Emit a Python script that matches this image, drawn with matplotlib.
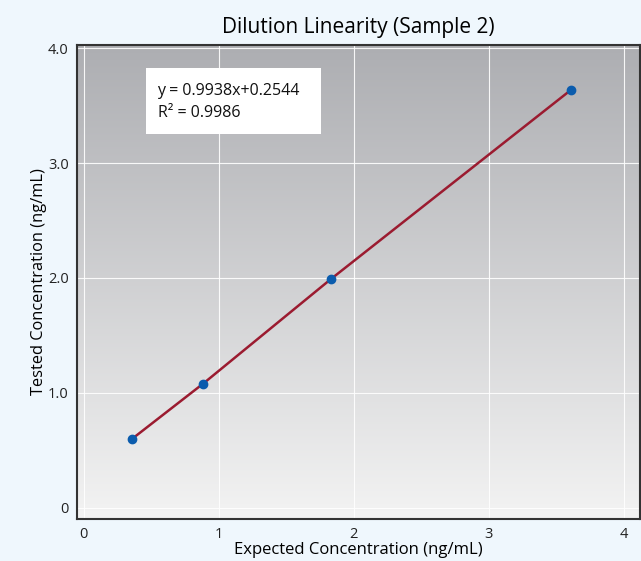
import numpy as np
import matplotlib
matplotlib.use("Agg")
import matplotlib.pyplot as plt
from matplotlib.colors import LinearSegmentedColormap
from matplotlib.patches import Rectangle

# Data
expected = [0.36, 0.885, 1.83, 3.61]
tested = [0.60, 1.08, 1.99, 3.64]
x_ticks = [0, 1, 2, 3, 4]
x_labels = ["0", "1", "2", "3", "4"]
y_ticks = [0, 1, 2, 3, 4]
y_labels = ["0", "1.0", "2.0", "3.0", "4.0"]
eq_text = "y = 0.9938x+0.2544\nR\u00b2 = 0.9986"

plt.rcParams['font.family'] = ['Open Sans', 'DejaVu Sans']

fig = plt.figure(figsize=(6.41, 5.61), dpi=100, facecolor='#eff7fd')
ax = fig.add_axes([77 / 641, 42 / 561, 563 / 641, 474 / 561])

# gradient background
grad = LinearSegmentedColormap.from_list('bg', ['#f3f3f3', '#adaeb2'])
ax.imshow(np.linspace(0, 1, 256).reshape(-1, 1), cmap=grad, origin='lower',
          aspect='auto', extent=[0, 1, 0, 1], transform=ax.transAxes, zorder=0)

ax.set_xlim(-0.05, 4.12)
ax.set_ylim(-0.1, 4.03)
ax.set_xticks(x_ticks)
ax.set_xticklabels(x_labels)
ax.set_yticks(y_ticks)
ax.set_yticklabels(y_labels)
ax.tick_params(length=0, labelsize=10.5, pad=6, colors='#222222')
ax.grid(True, color='white', linewidth=0.8, alpha=0.9, zorder=1)
ax.set_axisbelow(True)
for s in ax.spines.values():
    s.set_color('#333333')
    s.set_linewidth(1.5)

ax.plot(expected, tested, color='#9b1b30', linewidth=1.8, zorder=3)
ax.scatter(expected, tested, color='#0b5cad', s=36, zorder=4)

ax.add_patch(Rectangle((0.122, 0.812), 0.312, 0.139, transform=ax.transAxes,
                       facecolor='white', edgecolor='none', zorder=5))
ax.text(0.143, 0.88, eq_text, transform=ax.transAxes, fontsize=11.5,
        va='center', ha='left', linespacing=1.55, zorder=6, color='#111111')

ax.set_title('Dilution Linearity (Sample 2)', fontsize=15, pad=9)
ax.set_xlabel('Expected Concentration (ng/mL)', fontsize=12, labelpad=0)
ax.set_ylabel('Tested Concentration (ng/mL)', fontsize=11.8, labelpad=1)

fig.savefig('out.png', dpi=100, facecolor=fig.get_facecolor())
